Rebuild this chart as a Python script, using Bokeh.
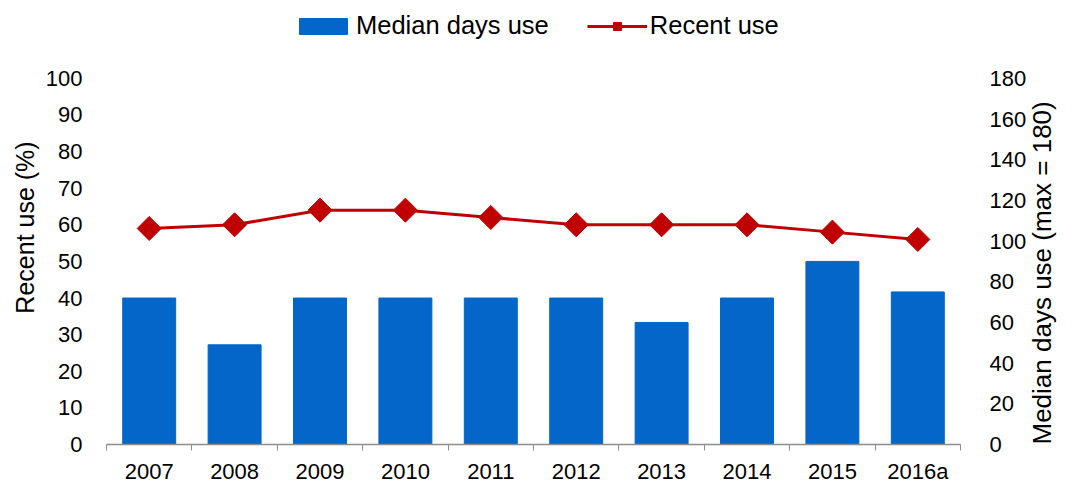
import math
from bokeh.plotting import figure
from bokeh.models import (Range1d, LinearAxis, FixedTicker, Legend, LegendItem,
                          ColumnDataSource)
from bokeh.embed import file_html
from bokeh.resources import INLINE

years = ["2007", "2008", "2009", "2010", "2011", "2012", "2013", "2014", "2015", "2016a"]
median_days = [72, 49, 72, 72, 72, 72, 60, 72, 90, 75]
recent_use = [59, 60, 64, 64, 62, 60, 60, 60, 58, 56]
left_ticks = list(range(0, 101, 10))
right_ticks = list(range(0, 181, 20))

FONT = "Liberation Sans"
BAR = "#0466C8"
RED = "#C00000"
GREY = "#8C8C8C"

# Frame spans almost the full height above the x axis so the legend (drawn inside
# the frame) is not clipped; the ranges are stretched so 100 % / 180 days sit at y=78 px.
TOP = 10
FRAME_H = 445 - TOP
AXIS_H = 367
LEFT_MAX = 100
RIGHT_MAX = 180

pos = [i + 0.5 for i in range(len(years))]
src = ColumnDataSource(dict(x=pos, days=median_days, recent=recent_use))

p = figure(width=1075, height=486, output_backend="svg", toolbar_location=None,
           x_range=Range1d(0, len(years)),
           y_range=Range1d(0, LEFT_MAX * FRAME_H / AXIS_H),
           min_border_left=106, min_border_right=112, min_border_top=TOP,
           min_border_bottom=41)
p.outline_line_color = None
p.title.visible = False
p.extra_y_ranges = {"days": Range1d(0, RIGHT_MAX * FRAME_H / AXIS_H)}
p.xgrid.visible = False
p.ygrid.visible = False

bars = p.vbar(x="x", top="days", width=0.62, source=src, y_range_name="days",
              fill_color=BAR, line_color=BAR)
ln = p.line(x="x", y="recent", source=src, line_color=RED, line_width=3)
pts = p.scatter(x="x", y="recent", source=src, marker="square", angle=math.pi / 4,
                size=17, fill_color=RED, line_color=RED)

# bottom axis
xa = p.xaxis[0]
xa.ticker = FixedTicker(ticks=pos, minor_ticks=list(range(len(years) + 1)))
xa.major_label_overrides = {pp: y for pp, y in zip(pos, years)}
xa.major_tick_line_color = None
xa.major_tick_out = 6
xa.major_tick_in = 0
xa.minor_tick_out = 6
xa.minor_tick_in = 0
xa.minor_tick_line_color = GREY
xa.axis_line_color = GREY
xa.axis_line_width = 1.5
xa.major_label_standoff = 8
xa.major_label_text_font = FONT
xa.major_label_text_font_size = "22px"
xa.major_label_text_color = "black"

# left axis
ya = p.yaxis[0]
ya.ticker = FixedTicker(ticks=left_ticks)
ya.axis_line_color = None
ya.major_tick_line_color = None
ya.minor_tick_line_color = None
ya.major_tick_out = 0
ya.major_label_standoff = 24
ya.major_label_text_font = FONT
ya.major_label_text_font_size = "22px"
ya.major_label_text_color = "black"
ya.axis_label = "Recent use (%)"
ya.axis_label_text_font = FONT
ya.axis_label_text_font_size = "25px"
ya.axis_label_text_font_style = "normal"
ya.axis_label_text_color = "black"
ya.axis_label_standoff = 4

# right axis
ra = LinearAxis(y_range_name="days", ticker=FixedTicker(ticks=right_ticks),
                axis_label="Median days use (max = 180)")
ra.axis_line_color = None
ra.major_tick_line_color = None
ra.minor_tick_line_color = None
ra.major_tick_out = 0
ra.major_label_standoff = 29
ra.major_label_text_font = FONT
ra.major_label_text_font_size = "22px"
ra.major_label_text_color = "black"
ra.axis_label_text_font = FONT
ra.axis_label_text_font_size = "26px"
ra.axis_label_text_font_style = "normal"
ra.axis_label_text_color = "black"
ra.axis_label_standoff = 13
if "axis_label_align" in ra.properties():
    ra.axis_label_orientation = math.pi / 2
    ra.axis_label_align = "start"
p.add_layout(ra, "right")

legend = Legend(items=[LegendItem(label="Median days use", renderers=[bars]),
                       LegendItem(label="Recent use", renderers=[ln, pts])],
                orientation="horizontal", location=(187, 404),
                border_line_color=None, background_fill_alpha=0,
                padding=0, margin=0, spacing=38, glyph_width=60, glyph_height=20,
                label_standoff=3, label_text_font=FONT, label_text_font_size="25.5px",
                label_text_color="black")
p.add_layout(legend, "center")

open("out.html", "w").write(file_html(p, INLINE))
